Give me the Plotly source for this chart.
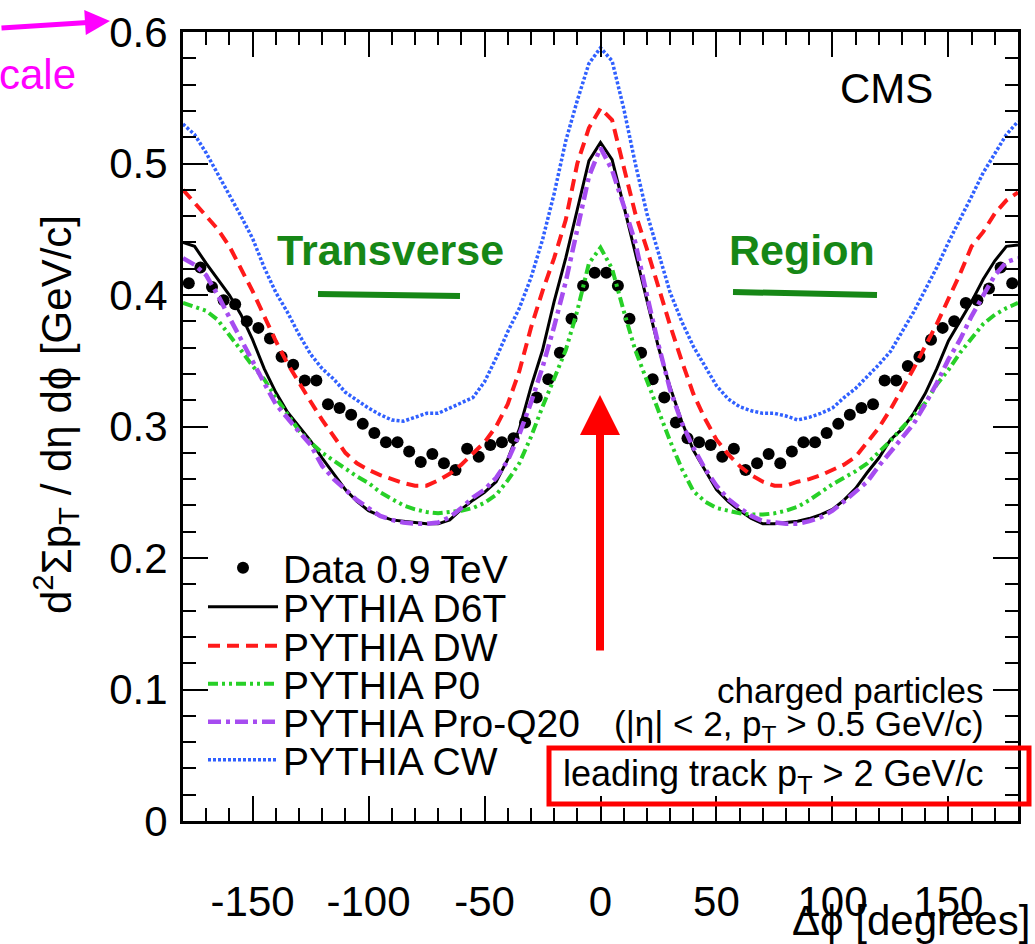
import plotly.graph_objects as go

# ---------------- data ----------------
phi_bins = [-177.5, -172.5, -167.5, -162.5, -157.5, -152.5, -147.5, -142.5, -137.5, -132.5,
            -127.5, -122.5, -117.5, -112.5, -107.5, -102.5, -97.5, -92.5, -87.5, -82.5,
            -77.5, -72.5, -67.5, -62.5, -57.5, -52.5, -47.5, -42.5, -37.5, -32.5,
            -27.5, -22.5, -17.5, -12.5, -7.5, -2.5,
            2.5, 7.5, 12.5, 17.5, 22.5, 27.5, 32.5, 37.5, 42.5, 47.5,
            52.5, 57.5, 62.5, 67.5, 72.5, 77.5, 82.5, 87.5, 92.5, 97.5,
            102.5, 107.5, 112.5, 117.5, 122.5, 127.5, 132.5, 137.5, 142.5, 147.5,
            152.5, 157.5, 162.5, 167.5, 172.5, 177.5]
data_09 = [0.409, 0.421, 0.406, 0.396, 0.393, 0.380, 0.375, 0.367, 0.353, 0.347,
           0.335, 0.335, 0.317, 0.314, 0.309, 0.302, 0.295, 0.288, 0.288, 0.281,
           0.273, 0.279, 0.272, 0.267, 0.283, 0.277, 0.286, 0.288, 0.291, 0.303,
           0.322, 0.336, 0.356, 0.382, 0.407, 0.417,
           0.417, 0.407, 0.382, 0.356, 0.336, 0.322, 0.303, 0.291, 0.288, 0.286,
           0.277, 0.283, 0.267, 0.272, 0.279, 0.272, 0.281, 0.288, 0.288, 0.295,
           0.302, 0.309, 0.314, 0.317, 0.335, 0.335, 0.346, 0.353, 0.366, 0.375,
           0.380, 0.394, 0.396, 0.405, 0.421, 0.409]

phi_mc = [-180, -175, -170, -165, -160, -155, -150, -145, -140, -135,
          -130, -125, -120, -115, -110, -105, -100, -95, -90, -85,
          -80, -75, -70, -65, -60, -55, -50, -45, -40, -35,
          -30, -25, -20, -15, -10, -5, 0,
          5, 10, 15, 20, 25, 30, 35, 40, 45, 50,
          55, 60, 65, 70, 75, 80, 85, 90, 95, 100,
          105, 110, 115, 120, 125, 130, 135, 140, 145, 150,
          155, 160, 165, 170, 175, 180]

d6t = [0.440, 0.437, 0.424, 0.412, 0.400, 0.385, 0.366, 0.344, 0.326, 0.311,
       0.300, 0.289, 0.276, 0.264, 0.252, 0.243, 0.236, 0.232, 0.229, 0.228,
       0.227, 0.226, 0.226, 0.229, 0.237, 0.244, 0.250, 0.258, 0.275, 0.298,
       0.330, 0.358, 0.395, 0.428, 0.465, 0.502, 0.516,
       0.503, 0.468, 0.432, 0.396, 0.360, 0.330, 0.304, 0.282, 0.267, 0.252,
       0.243, 0.236, 0.230, 0.226, 0.226, 0.227, 0.228, 0.230, 0.233, 0.237,
       0.244, 0.253, 0.265, 0.276, 0.290, 0.298, 0.310, 0.325, 0.344, 0.365,
       0.380, 0.395, 0.412, 0.426, 0.437, 0.438]

dw = [0.480, 0.470, 0.460, 0.450, 0.437, 0.420, 0.403, 0.384, 0.365, 0.348,
      0.333, 0.319, 0.305, 0.292, 0.280, 0.272, 0.267, 0.263, 0.260, 0.257,
      0.255, 0.255, 0.259, 0.264, 0.271, 0.279, 0.288, 0.300, 0.317, 0.342,
      0.375, 0.403, 0.428, 0.457, 0.500, 0.527, 0.542,
      0.533, 0.497, 0.462, 0.435, 0.405, 0.377, 0.350, 0.325, 0.306, 0.290,
      0.279, 0.270, 0.263, 0.258, 0.255, 0.255, 0.258, 0.260, 0.263, 0.267,
      0.271, 0.277, 0.288, 0.299, 0.313, 0.328, 0.344, 0.361, 0.378, 0.397,
      0.416, 0.437, 0.448, 0.462, 0.472, 0.478]

p0 = [0.394, 0.391, 0.388, 0.381, 0.370, 0.358, 0.346, 0.336, 0.322, 0.309,
      0.297, 0.288, 0.280, 0.274, 0.268, 0.262, 0.257, 0.250, 0.245, 0.240,
      0.237, 0.235, 0.234, 0.235, 0.236, 0.238, 0.242, 0.248, 0.259, 0.272,
      0.292, 0.315, 0.336, 0.358, 0.388, 0.424, 0.436,
      0.420, 0.388, 0.358, 0.335, 0.311, 0.289, 0.268, 0.251, 0.243, 0.238,
      0.236, 0.234, 0.233, 0.233, 0.234, 0.236, 0.239, 0.244, 0.250, 0.256,
      0.261, 0.266, 0.272, 0.280, 0.289, 0.299, 0.308, 0.318, 0.332, 0.343,
      0.356, 0.367, 0.378, 0.385, 0.390, 0.394]

proq20 = [0.428, 0.423, 0.415, 0.400, 0.383, 0.366, 0.349, 0.333, 0.317, 0.306,
          0.296, 0.286, 0.270, 0.260, 0.252, 0.244, 0.238, 0.232, 0.229, 0.227,
          0.226, 0.226, 0.227, 0.231, 0.238, 0.246, 0.252, 0.261, 0.274, 0.294,
          0.318, 0.345, 0.376, 0.410, 0.450, 0.490, 0.512,
          0.495, 0.468, 0.440, 0.400, 0.362, 0.328, 0.303, 0.284, 0.268, 0.255,
          0.245, 0.238, 0.232, 0.228, 0.227, 0.226, 0.226, 0.228, 0.231, 0.236,
          0.243, 0.251, 0.258, 0.270, 0.281, 0.292, 0.302, 0.317, 0.333, 0.351,
          0.366, 0.384, 0.400, 0.415, 0.425, 0.428]

cw = [0.530, 0.522, 0.508, 0.492, 0.477, 0.460, 0.443, 0.421, 0.402, 0.387,
      0.370, 0.355, 0.344, 0.336, 0.326, 0.320, 0.314, 0.309, 0.305, 0.304,
      0.307, 0.310, 0.310, 0.314, 0.318, 0.322, 0.334, 0.352, 0.372, 0.390,
      0.413, 0.442, 0.477, 0.517, 0.548, 0.576, 0.588,
      0.578, 0.542, 0.500, 0.462, 0.432, 0.402, 0.380, 0.361, 0.346, 0.331,
      0.321, 0.315, 0.312, 0.310, 0.310, 0.308, 0.305, 0.307, 0.310, 0.314,
      0.322, 0.329, 0.338, 0.347, 0.357, 0.372, 0.387, 0.404, 0.421, 0.440,
      0.457, 0.475, 0.493, 0.508, 0.522, 0.532]

x_ticks = [-150, -100, -50, 0, 50, 100, 150]
x_tick_labels = ["-150", "-100", "-50", "0", "50", "100", "150"]
y_ticks = [0, 0.1, 0.2, 0.3, 0.4, 0.5, 0.6]
y_tick_labels = ["0", "0.1", "0.2", "0.3", "0.4", "0.5", "0.6"]

# ---------------- geometry helpers (pixel -> paper) ----------------
W, H = 1035, 944
L, R, T, B = 183, 1018, 32, 821


def pxx(p):
    return (p - L) / (R - L)


def pxy(p):
    return (B - p) / (B - T)


FONT = "Liberation Sans, Arial, Helvetica, sans-serif"
GREEN_TXT = "#168716"

fig = go.Figure()

fig.add_trace(go.Scatter(x=phi_bins, y=data_09, mode="markers", name="Data 0.9 TeV",
                         marker=dict(color="black", size=12), legend="legend"))

curves = [
    ("PYTHIA D6T", d6t, "black", "solid", 3, "legend2"),
    ("PYTHIA DW", dw, "#ff1a1a", "12px,7px", 4, "legend3"),
    ("PYTHIA P0", p0, "#27d027", "10px,4px,3px,4px,3px,4px", 4, "legend4"),
    ("PYTHIA Pro-Q20", proq20, "#a64cf0", "13px,5px,4px,5px", 4.5, "legend5"),
    ("PYTHIA CW", cw, "#3060ff", "3px,2px", 3.5, "legend6"),
]
for name, vals, col, dash, w, lg in curves:
    fig.add_trace(go.Scatter(x=phi_mc, y=vals, mode="lines", name=name,
                             line=dict(color=col, dash=dash, width=w), legend=lg))

legend_rows = {"legend": 568, "legend2": 607, "legend3": 646, "legend4": 684,
               "legend5": 722, "legend6": 760}
leg_layout = {}
for key, yp in legend_rows.items():
    leg_layout[key] = dict(xref="paper", yref="paper", x=pxx(203), y=pxy(yp),
                           xanchor="left", yanchor="middle", bgcolor="rgba(0,0,0,0)",
                           borderwidth=0, itemwidth=70,
                           font=dict(family=FONT, size=39, color="black"))

axis_common = dict(showline=True, linecolor="black", linewidth=3, mirror="allticks",
                   ticks="inside", ticklen=25, tickwidth=2, tickcolor="black",
                   showgrid=False, zeroline=False, tickangle=0, automargin=False,
                   tickfont=dict(family=FONT, size=42, color="black"))

fig.update_layout(
    width=W, height=H,
    margin=dict(l=L, r=W - R, t=T, b=H - B, autoexpand=False),
    plot_bgcolor="white", paper_bgcolor="white",
    font=dict(family=FONT, color="black"),
    showlegend=True,
    xaxis=dict(range=[-180, 180], tickvals=x_ticks, ticktext=x_tick_labels, ticklabelstandoff=42,
               minor=dict(dtick=10, ticks="inside", ticklen=13, tickwidth=2, tickcolor="black"),
               **axis_common),
    yaxis=dict(range=[0, 0.6], tickvals=y_ticks, ticktext=y_tick_labels,
               ticklabelstandoff=4,
               minor=dict(dtick=0.02, ticks="inside", ticklen=13, tickwidth=2, tickcolor="black"),
               **axis_common),
    **leg_layout,
)

ann = []
# axis titles
ann.append(dict(x=pxx(55), y=pxy(415), xref="paper", yref="paper", textangle=-90,
                text="d<sup>2</sup>Σp<sub>T</sub> / dη dϕ [GeV/c]", showarrow=False,
                font=dict(family=FONT, size=42, color="black"), xanchor="center", yanchor="middle"))
ann.append(dict(x=pxx(1032), y=pxy(921), xref="paper", yref="paper",
                text="Δϕ [degrees]", showarrow=False,
                font=dict(family=FONT, size=42, color="black"), xanchor="right", yanchor="middle"))
# CMS
ann.append(dict(x=pxx(886), y=pxy(88), xref="paper", yref="paper", text="CMS", showarrow=False,
                font=dict(family=FONT, size=42, color="black"), xanchor="center", yanchor="middle"))
# region labels
ann.append(dict(x=pxx(390), y=pxy(250), xref="paper", yref="paper", text="<b>Transverse</b>",
                showarrow=False, font=dict(family=FONT, size=43, color=GREEN_TXT),
                xanchor="center", yanchor="middle"))
ann.append(dict(x=pxx(802), y=pxy(250), xref="paper", yref="paper", text="<b>Region</b>",
                showarrow=False, font=dict(family=FONT, size=43, color=GREEN_TXT),
                xanchor="center", yanchor="middle"))
# selection texts
ann.append(dict(x=pxx(986), y=pxy(690), xref="paper", yref="paper", text="charged particles",
                showarrow=False, font=dict(family=FONT, size=35, color="black"),
                xanchor="right", yanchor="middle"))
ann.append(dict(x=pxx(986), y=pxy(726), xref="paper", yref="paper",
                text="(|η| < 2, p<sub>T</sub> > 0.5 GeV/c)",
                showarrow=False, font=dict(family=FONT, size=35, color="black"),
                xanchor="right", yanchor="middle"))
ann.append(dict(x=pxx(986), y=pxy(776), xref="paper", yref="paper",
                text="leading track p<sub>T</sub> > 2 GeV/c",
                showarrow=False, font=dict(family=FONT, size=36, color="black"),
                xanchor="right", yanchor="middle"))
# red arrow pointing at the peak
ann.append(dict(x=pxx(600), y=pxy(395), xref="paper", yref="paper", ax=0, ay=257,
                showarrow=True, arrowhead=2, arrowsize=1, arrowwidth=8, arrowcolor="#ff0000",
                text=""))
# magenta arrow & text at top-left
ann.append(dict(x=pxx(110), y=pxy(21), xref="paper", yref="paper", ax=-112, ay=7,
                showarrow=True, arrowhead=2, arrowsize=1, arrowwidth=5, arrowcolor="#ff00ff",
                text=""))
ann.append(dict(x=pxx(-3), y=pxy(75), xref="paper", yref="paper", text="cale", showarrow=False,
                font=dict(family=FONT, size=42, color="#ff00ff"), xanchor="left", yanchor="middle"))

shapes = [
    dict(type="line", xref="paper", yref="paper", x0=pxx(318), y0=pxy(294), x1=pxx(460), y1=pxy(296),
         line=dict(color=GREEN_TXT, width=6)),
    dict(type="line", xref="paper", yref="paper", x0=pxx(733), y0=pxy(292), x1=pxx(877), y1=pxy(295),
         line=dict(color=GREEN_TXT, width=6)),
    dict(type="rect", xref="paper", yref="paper", x0=pxx(549), y0=pxy(748), x1=pxx(1029), y1=pxy(804),
         line=dict(color="#ff0000", width=5)),
]

fig.update_layout(annotations=ann, shapes=shapes)

fig.write_html("out.html")
